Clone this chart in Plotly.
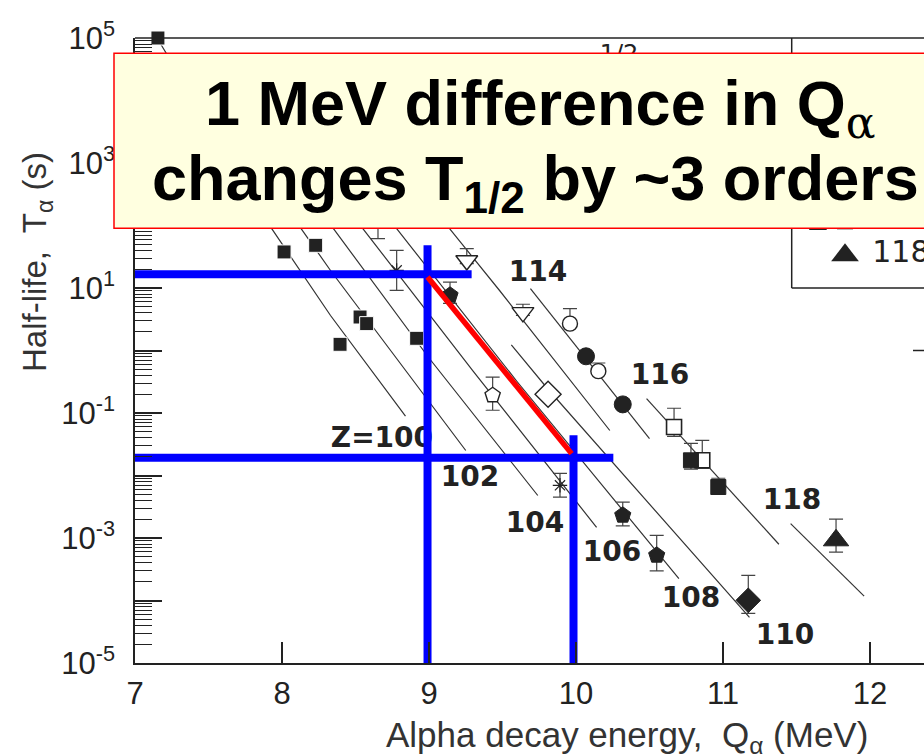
import numpy as np
import plotly.graph_objects as go

# ---------------- data ----------------
# systematics lines: alpha-decay energy Q (MeV) and log10 of half-life (s)
line_z = [100, 102, 104, 106, 108, 110, 112, 114, 116, 118]
line_q = [
    [7.15, 7.93, 8.33, 8.84],
    [7.60, 8.13, 8.33, 9.25],
    [7.95, 8.35, 9.00, 9.74],
    [8.15, 8.55, 9.30, 10.14],
    [8.35, 8.78, 9.60, 10.70],
    [9.56, 9.81, 11.18],
    [9.00, 9.14, 9.48, 10.07, 10.23],
    [9.69, 10.50],
    [10.48, 11.38],
    [11.46, 11.96],
]
line_logt = [
    [5.00, 1.95, 0.56, -1.05],
    [3.90, 1.95, 1.28, -1.60],
    [3.30, 1.95, -0.12, -2.32],
    [3.30, 1.95, -0.33, -2.83],
    [3.30, 1.95, -0.50, -3.65],
    [0.09, -0.62, -4.27],
    [2.40, 1.95, 0.96, -0.80, -1.28],
    [0.99, -1.41],
    [-0.77, -3.10],
    [-2.77, -3.93],
]

# measured points: Q, log10 T, +err / -err in decades
fsq_q = [7.156, 8.014, 8.229, 8.395, 8.531, 8.576, 8.916]
fsq_logt = [5.00, 1.577, 1.683, 0.099, 0.536, 0.430, 0.195]

ast_q = [8.653, 8.780, 9.891]
ast_logt = [2.16, 1.282, -2.157]
ast_up = [0.37, 0.32, 0.19]
ast_dn = [0.37, 0.32, 0.19]

opent_q = [9.433]
opent_logt = [-0.716]
opent_up = [0.29]
opent_dn = [0.24]

fpent_q = [9.143, 10.318, 10.549]
fpent_logt = [0.883, -2.637, -3.277]
fpent_up = [0.21, 0.21, 0.32]
fpent_dn = [0.13, 0.17, 0.25]

odia_q = [9.810]
odia_logt = [-0.70]

fdia_q = [11.172]
fdia_logt = [-3.997]
fdia_up = [0.40]
fdia_dn = [0.21]

otri_q = [9.257, 9.639]
otri_logt = [1.44, 0.61]
otri_up = [0.19, 0.13]
otri_dn = [0.05, 0.05]

ocir_q = [9.959, 10.152]
ocir_logt = [0.43, -0.33]
ocir_up = [0.24, 0.13]
ocir_dn = [0.04, 0.04]

fcir_q = [10.068, 10.318]
fcir_logt = [-0.093, -0.862]

osq_q = [10.667, 10.859]
osq_logt = [-1.224, -1.757]
osq_up = [0.30, 0.32]
osq_dn = [0.15, 0.13]

fsq116_q = [10.782, 10.968]
fsq116_logt = [-1.757, -2.184]
fsq116_up = [0.27, 0.14]
fsq116_dn = [0.14, 0.05]

ftri_q = [11.769]
ftri_logt = [-3.037]
ftri_up = [0.34]
ftri_dn = [0.19]

# line labels
label_text = ["Z=100", "102", "104", "106", "108", "110", "114", "116", "118"]
label_q = [8.680, 9.279, 9.721, 10.245, 10.782, 11.422, 9.741, 10.571, 11.469]
label_logt = [-1.437, -2.061, -2.797, -3.261, -3.997, -4.589, 1.219, -0.429, -2.429]

# guide lines (blue) and trend (red)
guide_h_q = [[6.986, 9.29], [6.986, 10.254]]
guide_h_logt = [[1.219, 1.219], [-1.717, -1.717]]
guide_v_q = [[8.99, 8.99], [9.983, 9.983]]
guide_v_logt = [[1.683, -5.0], [-1.357, -5.0]]
red_q = [8.99, 9.97]
red_logt = [1.176, -1.65]

x_ticks = [7, 8, 9, 10, 11, 12]
y_exps = [-5, -4, -3, -2, -1, 0, 1, 2, 3, 4, 5]

# ---------------- figure ----------------
W, H = 924, 756
L, T, PW, PH = 135, 38, 789, 625
XMAX = 7 + PW / 147.0


def pxx(px):
    return (px - L) / PW


def pxy(py):
    return (T + PH - py) / PH


def tv(a):
    return [10.0 ** v for v in a]


DARK = "#222222"
fig = go.Figure()

for q, lt in zip(line_q, line_logt):
    fig.add_trace(go.Scatter(x=q, y=tv(lt), mode="lines",
                             line=dict(color="#333333", width=1.2),
                             hoverinfo="skip", showlegend=False))


def err(lt, up, dn):
    hi = [10 ** (a + u) - 10 ** a for a, u in zip(lt, up)]
    lo = [10 ** a - 10 ** (a - d) for a, d in zip(lt, dn)]
    return dict(type="data", symmetric=False, array=hi, arrayminus=lo,
                color="#444444", thickness=1.2, width=7)


def pts(q, lt, symbol, size, fill, line_col, line_w, e=None):
    fig.add_trace(go.Scatter(
        x=q, y=tv(lt), mode="markers", cliponaxis=False,
        marker=dict(symbol=symbol, size=size, color=fill,
                    line=dict(color=line_col, width=line_w)),
        error_y=e if e else dict(visible=False),
        hoverinfo="skip", showlegend=False))


pts(ast_q, ast_logt, "asterisk-open", 12, DARK, DARK, 1.2, err(ast_logt, ast_up, ast_dn))
pts(opent_q, opent_logt, "pentagon", 16, "white", DARK, 1.4, err(opent_logt, opent_up, opent_dn))
pts(fpent_q, fpent_logt, "pentagon", 17, DARK, DARK, 1, err(fpent_logt, fpent_up, fpent_dn))
pts(fdia_q, fdia_logt, "diamond", 19, DARK, DARK, 1, err(fdia_logt, fdia_up, fdia_dn))
pts(otri_q, otri_logt, "triangle-down", 19, "white", DARK, 1.4, err(otri_logt, otri_up, otri_dn))
pts(ocir_q, ocir_logt, "circle", 15, "white", DARK, 1.4, err(ocir_logt, ocir_up, ocir_dn))
pts(osq_q, osq_logt, "square", 15, "white", DARK, 1.6, err(osq_logt, osq_up, osq_dn))
pts(fsq116_q, fsq116_logt, "square", 15, DARK, DARK, 1, err(fsq116_logt, fsq116_up, fsq116_dn))
pts(ftri_q, ftri_logt, "triangle-up", 22, DARK, DARK, 1, err(ftri_logt, ftri_up, ftri_dn))
pts(odia_q, odia_logt, "diamond", 20, "white", DARK, 1.4)
pts(fcir_q, fcir_logt, "circle", 17, DARK, DARK, 1)
pts(fsq_q, fsq_logt, "square", 14, DARK, "white", 1)

# labels on the lines
fig.add_trace(go.Scatter(
    x=label_q, y=tv(label_logt), mode="text", text=label_text,
    textposition="middle center", cliponaxis=False,
    textfont=dict(family="DejaVu Sans", size=28, color=DARK, weight="bold"),
    hoverinfo="skip", showlegend=False))

# partial legend / header texts (mostly hidden by the callout)
fig.add_trace(go.Scatter(
    x=[11.646], y=[10 ** 2.067], mode="markers", cliponaxis=False,
    marker=dict(symbol="square", size=16, color="white", line=dict(color=DARK, width=1.5)),
    hoverinfo="skip", showlegend=False))
fig.add_trace(go.Scatter(
    x=[11.83], y=[10 ** 2.067], mode="markers", cliponaxis=False,
    marker=dict(symbol="square", size=16, color=DARK),
    hoverinfo="skip", showlegend=False))
fig.add_trace(go.Scatter(
    x=[11.83], y=[10 ** 1.523], mode="markers", cliponaxis=False,
    marker=dict(symbol="triangle-up", size=24, color=DARK),
    hoverinfo="skip", showlegend=False))
fig.add_trace(go.Scatter(
    x=[12.21, 12.21, 10.293], y=[10 ** 2.16, 10 ** 1.54, 10 ** 4.72], mode="text",
    text=["116", "118", "1/2"], textposition="middle center", cliponaxis=False,
    textfont=dict(family="DejaVu Sans", size=[30, 30, 24], color=DARK),
    hoverinfo="skip", showlegend=False))

# blue guide lines and red trend line
for q, lt in zip(guide_h_q + guide_v_q, guide_h_logt + guide_v_logt):
    fig.add_trace(go.Scatter(x=q, y=tv(lt), mode="lines",
                             line=dict(color="#0000FF", width=8),
                             hoverinfo="skip", showlegend=False))
fig.add_trace(go.Scatter(x=red_q, y=tv(red_logt), mode="lines",
                         line=dict(color="#FF0000", width=5.5),
                         hoverinfo="skip", showlegend=False))

shapes = []
# top frame
shapes.append(dict(type="line", xref="paper", yref="paper", x0=0, x1=1, y0=1, y1=1,
                   line=dict(color=DARK, width=1.5), layer="above"))
# right-side mirror ticks
for e in [-4, -3, -2, -1, 0, 1]:
    shapes.append(dict(type="line", xref="paper", yref="y", x0=pxx(913), x1=1, y0=e, y1=e,
                       line=dict(color=DARK, width=1.5), layer="above"))
# legend frame
shapes.append(dict(type="line", xref="paper", yref="paper", x0=pxx(791.7), x1=pxx(791.7),
                   y0=pxy(288), y1=1, line=dict(color=DARK, width=1.5), layer="above"))
shapes.append(dict(type="line", xref="paper", yref="paper", x0=pxx(791.7), x1=1,
                   y0=pxy(288), y1=pxy(288), line=dict(color=DARK, width=1.5), layer="above"))
# callout box
shapes.append(dict(type="rect", xref="paper", yref="paper", x0=pxx(114), x1=pxx(962),
                   y0=pxy(228.3), y1=pxy(53.3), fillcolor="#FFFFE0",
                   line=dict(color="#FF0000", width=1.5), layer="above"))

ALPHA_SUB = "<sub><span style='font-weight:normal;font-family:DejaVu Serif'>α</span></sub>"

annotations = [
    dict(xref="paper", yref="paper", x=pxx(540), y=pxy(108), xanchor="center", yanchor="middle",
         text="<b>1 MeV difference in Q</b>" + ALPHA_SUB, showarrow=False,
         font=dict(family="Liberation Sans", size=63, color="black")),
    dict(xref="paper", yref="paper", x=pxx(535), y=pxy(182), xanchor="center", yanchor="middle",
         text="<b>changes T<sub>1/2</sub> by ~3 orders</b>", showarrow=False,
         font=dict(family="Liberation Sans", size=63, color="black")),
    dict(xref="paper", yref="paper", x=pxx(627), y=pxy(737), xanchor="center", yanchor="middle",
         text="Alpha decay energy,  Q<sub>α</sub> (MeV)", showarrow=False,
         font=dict(family="Liberation Sans", size=35, color="#333333")),
    dict(xref="paper", yref="paper", x=pxx(37), y=pxy(262), xanchor="center", yanchor="middle",
         text="Half-life,  T<sub>α</sub> (s)", showarrow=False, textangle=-90,
         font=dict(family="Liberation Sans", size=33, color="#333333")),
]

y_text = [("10<sup>%d</sup>" % e) if e % 2 else "" for e in y_exps]

fig.update_layout(
    width=W, height=H,
    margin=dict(l=L, r=W - L - PW, t=T, b=H - T - PH),
    paper_bgcolor="white", plot_bgcolor="white",
    showlegend=False,
    shapes=shapes, annotations=annotations,
    xaxis=dict(range=[7, XMAX], tickmode="array", tickvals=x_ticks,
               ticktext=[str(v) for v in x_ticks],
               ticks="inside", ticklen=21, tickwidth=1.5, tickcolor=DARK,
               showline=True, linecolor=DARK, linewidth=1.5, mirror=False,
               showgrid=False, zeroline=False, ticklabelstandoff=2,
               tickfont=dict(family="Liberation Sans", size=31, color=DARK)),
    yaxis=dict(type="log", range=[-5, 5], tickmode="array",
               tickvals=[10.0 ** e for e in y_exps], ticktext=y_text,
               ticks="inside", ticklen=27, tickwidth=1.5, tickcolor=DARK,
               minor=dict(ticks="inside", ticklen=17, tickwidth=1.2, tickcolor=DARK,
                          dtick="D1", showgrid=False),
               showline=True, linecolor=DARK, linewidth=1.5, mirror=False,
               showgrid=False, zeroline=False, ticklabelstandoff=12,
               tickfont=dict(family="Liberation Sans", size=31, color=DARK)),
)

fig.write_html("out.html")
